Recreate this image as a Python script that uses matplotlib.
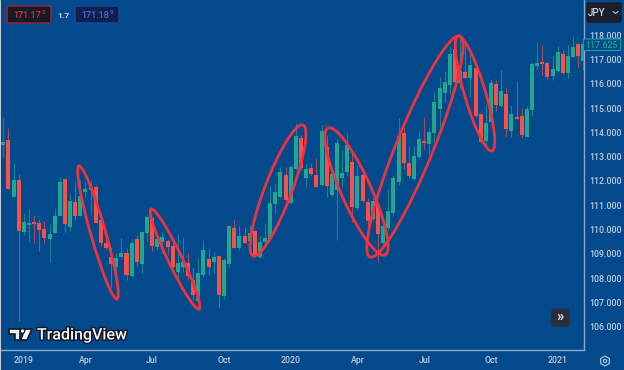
import math
import matplotlib
matplotlib.use("Agg")
import matplotlib.pyplot as plt
from matplotlib.patches import Ellipse, FancyBboxPatch, Rectangle, Polygon, Circle, RegularPolygon
from matplotlib.transforms import IdentityTransform
import matplotlib.patheffects as pe

opens = [113.48,113.69,111.35,112.04,109.91,110.17,110.30,110.25,110.01,109.60,109.87,110.56,112.07,110.12,111.13,110.56,111.53,111.63,111.74,110.39,
         109.43,108.85,108.44,108.88,109.03,108.10,109.61,108.60,109.84,110.46,109.29,109.50,109.51,109.33,108.27,108.44,108.64,107.92,107.07,108.14,
         108.80,108.65,108.92,107.26,108.58,110.08,109.22,109.75,109.53,109.94,108.86,109.47,109.61,111.05,111.33,112.25,111.08,112.48,113.76,112.11,
         112.53,112.25,111.82,113.41,111.41,111.63,112.14,112.38,112.78,110.87,112.25,111.15,110.42,111.05,109.46,110.05,110.67,111.97,113.96,112.73,
         112.08,112.97,113.65,113.52,113.99,114.95,115.61,115.95,117.42,116.02,116.50,116.25,116.64,114.75,113.66,114.44,115.99,115.09,115.58,114.07,
         114.62,114.66,113.83,114.92,116.75,116.89,116.87,116.32,116.54,117.22,116.46,117.12,117.64,116.95]
highs = [114.65,114.17,112.73,112.29,110.67,110.83,110.60,110.42,110.37,110.23,110.90,112.15,112.11,111.46,111.96,112.04,111.97,112.04,111.83,110.53,
         109.98,109.29,109.02,109.64,109.22,109.57,109.77,109.90,110.60,110.53,109.91,109.91,109.57,109.43,109.82,109.71,109.02,108.47,108.81,109.57,
         109.22,109.09,108.92,108.81,110.15,110.39,110.19,110.12,110.19,109.98,109.73,110.25,111.79,111.90,112.59,112.59,112.66,114.37,113.89,112.70,
         112.73,112.93,114.30,113.89,112.59,113.71,113.28,113.96,113.14,112.66,112.52,111.29,111.35,111.08,110.39,111.66,112.25,114.58,114.24,113.44,
         113.44,114.03,114.62,114.24,115.68,116.30,116.54,117.56,117.78,117.94,117.74,117.46,116.64,114.79,115.13,116.19,116.16,116.57,115.88,115.13,
         116.12,114.99,115.09,116.85,117.74,117.60,116.91,117.19,117.56,117.39,117.60,117.98,117.70,117.67]
lows = [113.00,111.67,111.35,106.25,109.77,109.50,109.46,109.13,109.43,108.68,109.87,110.56,109.91,109.95,110.39,110.56,111.33,110.60,110.25,109.32,
        109.16,107.62,107.92,108.81,107.92,108.06,108.51,108.22,109.54,109.13,109.16,109.02,108.95,108.40,108.06,108.27,107.92,107.10,106.96,108.06,
        108.13,108.17,106.75,107.14,108.43,109.22,109.16,109.43,109.50,108.88,108.81,109.43,109.57,110.67,111.29,111.15,111.05,112.45,112.45,111.74,
        112.25,111.74,111.79,111.35,111.35,109.57,111.74,112.25,110.32,110.80,111.15,109.91,110.39,108.68,109.40,109.98,110.60,111.83,112.49,112.11,
        112.04,112.93,113.32,113.07,113.62,114.24,115.27,115.58,115.89,115.84,116.23,115.47,114.65,113.55,113.34,114.37,114.90,115.03,113.83,113.83,
        114.55,113.76,113.80,114.68,116.57,116.36,116.19,116.16,116.50,116.41,116.23,117.09,116.64,116.57]
closes = [113.59,111.67,112.04,109.94,110.31,110.25,110.24,109.98,109.67,109.82,110.56,111.96,110.23,111.19,110.56,111.38,111.66,111.74,110.25,109.43,
          109.24,108.57,108.83,109.03,108.13,109.43,108.65,109.90,110.53,109.33,109.61,109.68,109.29,108.47,108.62,108.68,108.09,107.30,108.22,109.16,
          108.47,108.88,107.30,108.75,110.15,109.22,109.75,109.46,109.84,108.91,109.50,109.65,111.11,111.53,112.36,111.22,112.56,113.85,112.52,112.49,
          112.27,111.77,114.07,111.79,112.29,113.58,112.31,113.48,110.94,112.20,111.18,110.35,111.18,109.82,110.16,110.78,112.11,113.87,112.73,112.20,
          113.04,113.72,113.57,114.02,115.23,115.82,116.09,117.23,116.09,116.54,116.23,116.78,114.69,113.62,114.37,116.05,115.12,115.72,114.13,114.76,
          114.57,113.91,114.95,116.80,116.85,116.83,116.27,116.60,117.30,116.43,117.15,117.50,117.15,117.64]

price_ticks = [106, 107, 108, 109, 110, 111, 112, 113, 114, 115, 116, 117, 118]
time_ticks = [4, 16, 29, 43, 56, 69, 82, 95, 108]
time_labels = ["2019", "Apr", "Jul", "Oct", "2020", "Apr", "Jul", "Oct", "2021"]
last_price = 117.625

BG = "#024a8b"
UP = "#22a68f"
DOWN = "#fb4f4a"
RING = "#f0323f"
LINE = "#8aa6cc"
TXT = "#c0cee2"

W, H = 624, 370
fig = plt.figure(figsize=(W / 100, H / 100), dpi=100, facecolor=BG)
plt.rcParams["font.family"] = ["Roboto", "DejaVu Sans"]
ax = fig.add_axes([1 / W, 1 - 350 / H, 583 / W, 350 / H], facecolor=BG)
ax.set_xlim(-0.45, 113.13)
ax.set_ylim(105.04, 119.45)

for i, (o, h, l, c) in enumerate(zip(opens, highs, lows, closes)):
    col = UP if c >= o else DOWN
    ax.vlines(i, l, h, color=col, lw=0.8, alpha=0.65, zorder=2)
    ax.bar(i, max(abs(c - o), 0.05), bottom=min(o, c), width=0.78, color=col, lw=0, zorder=3)

for s in ("top", "left"):
    ax.spines[s].set_visible(False)
for s in ("right", "bottom"):
    ax.spines[s].set_color(LINE)
    ax.spines[s].set_linewidth(1.0)
ax.yaxis.tick_right()
ax.set_yticks(price_ticks)
ax.set_yticklabels([f"{p:.3f}" for p in price_ticks], fontsize=6.3, color=TXT, fontweight="medium")
ax.set_xticks(time_ticks)
ax.set_xticklabels(time_labels, fontsize=6.3, color=TXT, fontweight="medium")
ax.tick_params(axis="both", length=0, pad=4.0)
ax.tick_params(axis="x", pad=4.0)

# hand-drawn ellipses: end points in screen pixels (from top-left), minor width
rings = [((79, 166), (117, 299), 15),
         ((151, 209), (199, 309), 14),
         ((253, 256), (303, 125), 27),
         ((328, 128), (385, 255), 30),
         ((370, 257), (460, 36), 37),
         ((458, 36), (492, 151), 21)]
for (x0, y0), (x1, y1), minor in rings:
    cx, cy = (x0 + x1) / 2, H - (y0 + y1) / 2
    L = math.hypot(x1 - x0, y1 - y0)
    ang = math.degrees(math.atan2(-(y1 - y0), x1 - x0))
    fig.add_artist(Ellipse((cx, cy), L, minor, angle=ang, fill=False, ec=RING, lw=2.0,
                           transform=IdentityTransform(), zorder=6))

def px_box(x0, y0, x1, y1, fc, ec, lw=1.0, r=2, z=7):
    fig.add_artist(FancyBboxPatch((x0, H - y1), x1 - x0, y1 - y0,
                                  boxstyle=f"round,pad=0,rounding_size={r}", fc=fc, ec=ec, lw=lw,
                                  transform=IdentityTransform(), zorder=z))

def px_text(x, y, s, size, color, ha="center", weight="normal", **kw):
    return fig.text(x / W, 1 - y / H, s, fontsize=size, color=color, ha=ha, va="center",
                    fontweight=weight, zorder=8, **kw)

# bid / ask boxes
px_box(7, 6, 51, 23, "#161a26", "#a8232f")
px_text(13, 15, "171.17", 6.5, "#e8283f", ha="left", weight="medium")
px_text(41.5, 13, "2", 4.6, "#e8283f", ha="left", weight="medium")
px_text(63, 15, "1.7", 6.0, "#d0dae8", weight="bold")
px_box(75, 6, 119, 23, "#10204a", "#1d45ad")
px_text(81, 15, "171.18", 6.5, "#4468ee", ha="left", weight="medium")
px_text(109.5, 13, "9", 4.6, "#4468ee", ha="left", weight="medium")

# currency button
px_box(587, 3, 621, 22, "#1b1f2b", "#1b1f2b", r=1.5)
px_text(597, 12.5, "JPY", 7.0, "#d2d6de", weight="medium")
ax_chev = [(613, 11.5), (615.5, 13.5), (618, 11.5)]
fig.add_artist(plt.Line2D([p[0] for p in ax_chev], [H - p[1] for p in ax_chev], color="#d2d6de", lw=0.7,
                          transform=IdentityTransform(), zorder=8))

# last price tag
px_box(583.5, 39, 620.5, 50.5, BG, "#1f9e93", lw=0.8, r=1)
px_text(602, 45.2, f"{last_price:.3f}", 6.3, "#22a68f", weight="medium")

# scroll button
px_box(552, 309, 569, 326, "#2a2e3c", "#2a2e3c", r=2.5)
px_text(560.5, 316.5, "\u00bb", 10.5, "#e8e8ec", weight="bold")

# settings icon
fig.add_artist(RegularPolygon((605, H - 361), 6, radius=5, fill=False, ec=TXT, lw=0.8,
                              transform=IdentityTransform(), zorder=8))
fig.add_artist(Circle((605, H - 361), 1.6, fill=False, ec=TXT, lw=0.8,
                      transform=IdentityTransform(), zorder=8))

# logo
logo_fx = [pe.withStroke(linewidth=2.0, foreground="#131722")]
for pts in ([(9, 329), (20, 329), (20, 340), (15, 340), (15, 334), (9, 334)],
            [(25, 329), (32, 329), (27, 340), (20.5, 340)]):
    p = Polygon([(x, H - y) for x, y in pts], fc="#f4f6f8", ec="#131722", lw=1.2,
                transform=IdentityTransform(), zorder=8)
    fig.add_artist(p)
fig.add_artist(Circle((22.5, H - 331), 2.2, fc="#f4f6f8", ec="#131722", lw=0.8,
                      transform=IdentityTransform(), zorder=8))
px_text(37, 335, "TradingView", 11.5, "#f4f6f8", ha="left", weight="medium", path_effects=logo_fx)

# thin light edge on the left
fig.add_artist(Rectangle((0, 0), 1, H, fc="#c6ccd4", ec="none", transform=IdentityTransform(), zorder=9))

fig.savefig("out.png", dpi=100, facecolor=BG)
